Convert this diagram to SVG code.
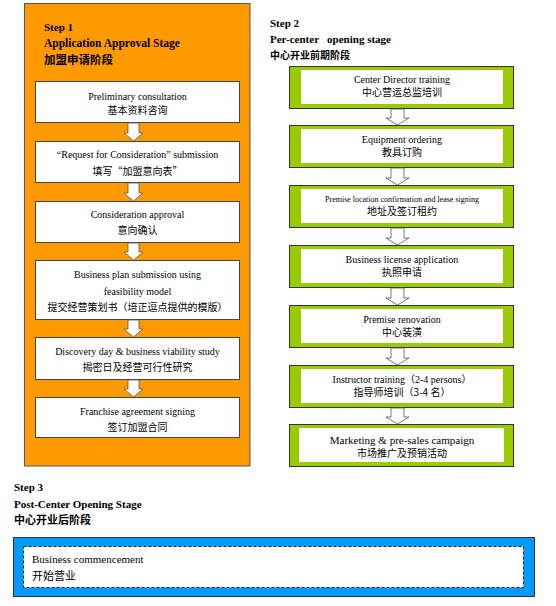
<svg xmlns="http://www.w3.org/2000/svg" width="556" height="606" viewBox="0 0 556 606">
<defs>
<style>
.hd{font-family:"Liberation Serif","Noto Sans CJK SC",serif;font-weight:bold;font-size:11px;fill:#000}
.hdc{font-family:"Noto Sans CJK SC",sans-serif;font-weight:bold;font-size:11px;fill:#000}
.en{font-family:"Liberation Serif","Noto Sans CJK SC",serif;font-size:10px;fill:#000}
.zh{font-family:"Noto Sans CJK SC",sans-serif;font-size:10px;fill:#000}
.ob{fill:#fff;stroke:#444;stroke-width:1}
.gb{fill:#99cc00;stroke:#333;stroke-width:1}
.gi{fill:#fff}
.ar{fill:#fff;stroke:#555;stroke-width:0.8}
</style>
</defs>
<g id="step1">
<rect x="24.5" y="3.5" width="225.5" height="462.5" fill="#ff9900" stroke="#555" stroke-width="1"/>
<text class="hd" x="44" y="31">Step 1</text>
<text class="hd" x="44" y="47" style="font-size:11.5px">Application Approval Stage</text>
<text class="hdc" x="44" y="64" style="font-size:11.5px">加盟申请阶段</text>
</g>
<g id="s1n1"><rect class="ob" x="35.5" y="81.5" width="204" height="41"/>
<text class="en" x="137.5" y="99.5" text-anchor="middle">Preliminary consultation</text>
<text class="zh" x="137.5" y="114" text-anchor="middle">基本资料咨询</text></g>
<g id="s1n2"><rect class="ob" x="35.5" y="141.5" width="204" height="41"/>
<text class="en" x="137.5" y="157.5" text-anchor="middle">“Request for Consideration” submission</text>
<text class="zh" x="137.5" y="175" text-anchor="middle">填写“加盟意向表”</text></g>
<g id="s1n3"><rect class="ob" x="35.5" y="201.5" width="204" height="41"/>
<text class="en" x="137.5" y="218" text-anchor="middle">Consideration approval</text>
<text class="zh" x="137.5" y="234" text-anchor="middle">意向确认</text></g>
<g id="s1n4"><rect class="ob" x="35.5" y="260.5" width="204" height="59"/>
<text class="en" x="137.5" y="278" text-anchor="middle">Business plan submission using</text>
<text class="en" x="137.5" y="294.5" text-anchor="middle">feasibility model</text>
<text class="zh" x="137.5" y="311" text-anchor="middle">提交经营策划书（培正逗点提供的模版）</text></g>
<g id="s1n5"><rect class="ob" x="35.5" y="337.5" width="204" height="42"/>
<text class="en" x="137.5" y="355" text-anchor="middle">Discovery day &amp; business viability study</text>
<text class="zh" x="137.5" y="370.5" text-anchor="middle">揭密日及经营可行性研究</text></g>
<g id="s1n6"><rect class="ob" x="35.5" y="397.5" width="204" height="40"/>
<text class="en" x="137.5" y="414.5" text-anchor="middle">Franchise agreement signing</text>
<text class="zh" x="137.5" y="430.5" text-anchor="middle">签订加盟合同</text></g>

<g id="step2">
<text class="hd" x="270" y="27">Step 2</text>
<text class="hd" x="270" y="43" xml:space="preserve">Per-center   opening stage</text>
<text class="hdc" x="270" y="59" style="font-size:10px">中心开业前期阶段</text>
</g>
<g id="s2n1"><rect class="gb" x="289.5" y="66.5" width="224" height="42"/><rect class="gi" x="301" y="70" width="202" height="34"/>
<text class="en" x="402" y="83" text-anchor="middle">Center Director training</text>
<text class="zh" x="402" y="95.5" text-anchor="middle">中心营运总监培训</text></g>
<g id="s2n2"><rect class="gb" x="289.5" y="125.5" width="224" height="42"/><rect class="gi" x="301" y="129" width="202" height="34"/>
<text class="en" x="402" y="143" text-anchor="middle">Equipment ordering</text>
<text class="zh" x="402" y="155.5" text-anchor="middle">教具订购</text></g>
<g id="s2n3"><rect class="gb" x="289.5" y="185.5" width="224" height="42"/><rect class="gi" x="301" y="189" width="202" height="34"/>
<text class="en" x="402" y="202" text-anchor="middle" style="font-size:8px">Premise location confirmation and lease signing</text>
<text class="zh" x="402" y="214.5" text-anchor="middle">地址及签订租约</text></g>
<g id="s2n4"><rect class="gb" x="289.5" y="245.5" width="224" height="42"/><rect class="gi" x="301" y="249" width="202" height="34"/>
<text class="en" x="402" y="263" text-anchor="middle">Business license application</text>
<text class="zh" x="402" y="275.5" text-anchor="middle">执照申请</text></g>
<g id="s2n5"><rect class="gb" x="289.5" y="305.5" width="224" height="42"/><rect class="gi" x="301" y="309" width="202" height="34"/>
<text class="en" x="402" y="323" text-anchor="middle">Premise renovation</text>
<text class="zh" x="402" y="335.5" text-anchor="middle">中心装潢</text></g>
<g id="s2n6"><rect class="gb" x="289.5" y="365.5" width="224" height="42"/><rect class="gi" x="301" y="369" width="202" height="34"/>
<text class="en" x="402" y="383" text-anchor="middle">Instructor training（2-4 persons）</text>
<text class="zh" x="402" y="395.5" text-anchor="middle">指导师培训（3-4 名）</text></g>
<g id="s2n7"><rect class="gb" x="289.5" y="424.5" width="224" height="42"/><rect class="gi" x="299" y="428" width="205" height="34"/>
<text class="en" x="402" y="444" text-anchor="middle" style="font-size:11px">Marketing &amp; pre-sales campaign</text>
<text class="zh" x="402" y="456.5" text-anchor="middle">市场推广及预销活动</text></g>

<g id="step3">
<text class="hd" x="14" y="491">Step 3</text>
<text class="hd" x="14" y="508">Post-Center Opening Stage</text>
<text class="hdc" x="14" y="524">中心开业后阶段</text>
</g>
<g id="s3n1">
<rect x="13.5" y="537.5" width="521" height="59" fill="#0099ff" stroke="#333" stroke-width="1"/>
<rect x="23.5" y="546.5" width="500" height="41" fill="#fff" stroke="#222" stroke-width="1" stroke-dasharray="3,2"/>
<text class="en" x="32" y="563" style="font-size:11px">Business commencement</text>
<text class="zh" x="32" y="580" style="font-size:11px">开始营业</text>
</g>

<g id="connectors">
<polygon class="ar" points="128,123 139,123 139,133 143,133 133.5,141 124,133 128,133"/>
<polygon class="ar" points="128,183 139,183 139,193 143,193 133.5,201 124,193 128,193"/>
<polygon class="ar" points="128,243 139,243 139,252 143,252 133.5,260 124,252 128,252"/>
<polygon class="ar" points="128,320 139,320 139,329 143,329 133.5,337 124,329 128,329"/>
<polygon class="ar" points="128,380 139,380 139,389 143,389 133.5,397 124,389 128,389"/>
<polygon class="ar" points="391,109 404,109 404,118 409,118 397.5,125 386,118 391,118"/>
<polygon class="ar" points="391,168 404,168 404,178 409,178 397.5,185 386,178 391,178"/>
<polygon class="ar" points="391,228 404,228 404,238 409,238 397.5,245 386,238 391,238"/>
<polygon class="ar" points="391,288 404,288 404,298 409,298 397.5,305 386,298 391,298"/>
<polygon class="ar" points="391,348 404,348 404,358 409,358 397.5,365 386,358 391,358"/>
<polygon class="ar" points="391,408 404,408 404,417 409,417 397.5,424 386,417 391,417"/>
</g>
</svg>
